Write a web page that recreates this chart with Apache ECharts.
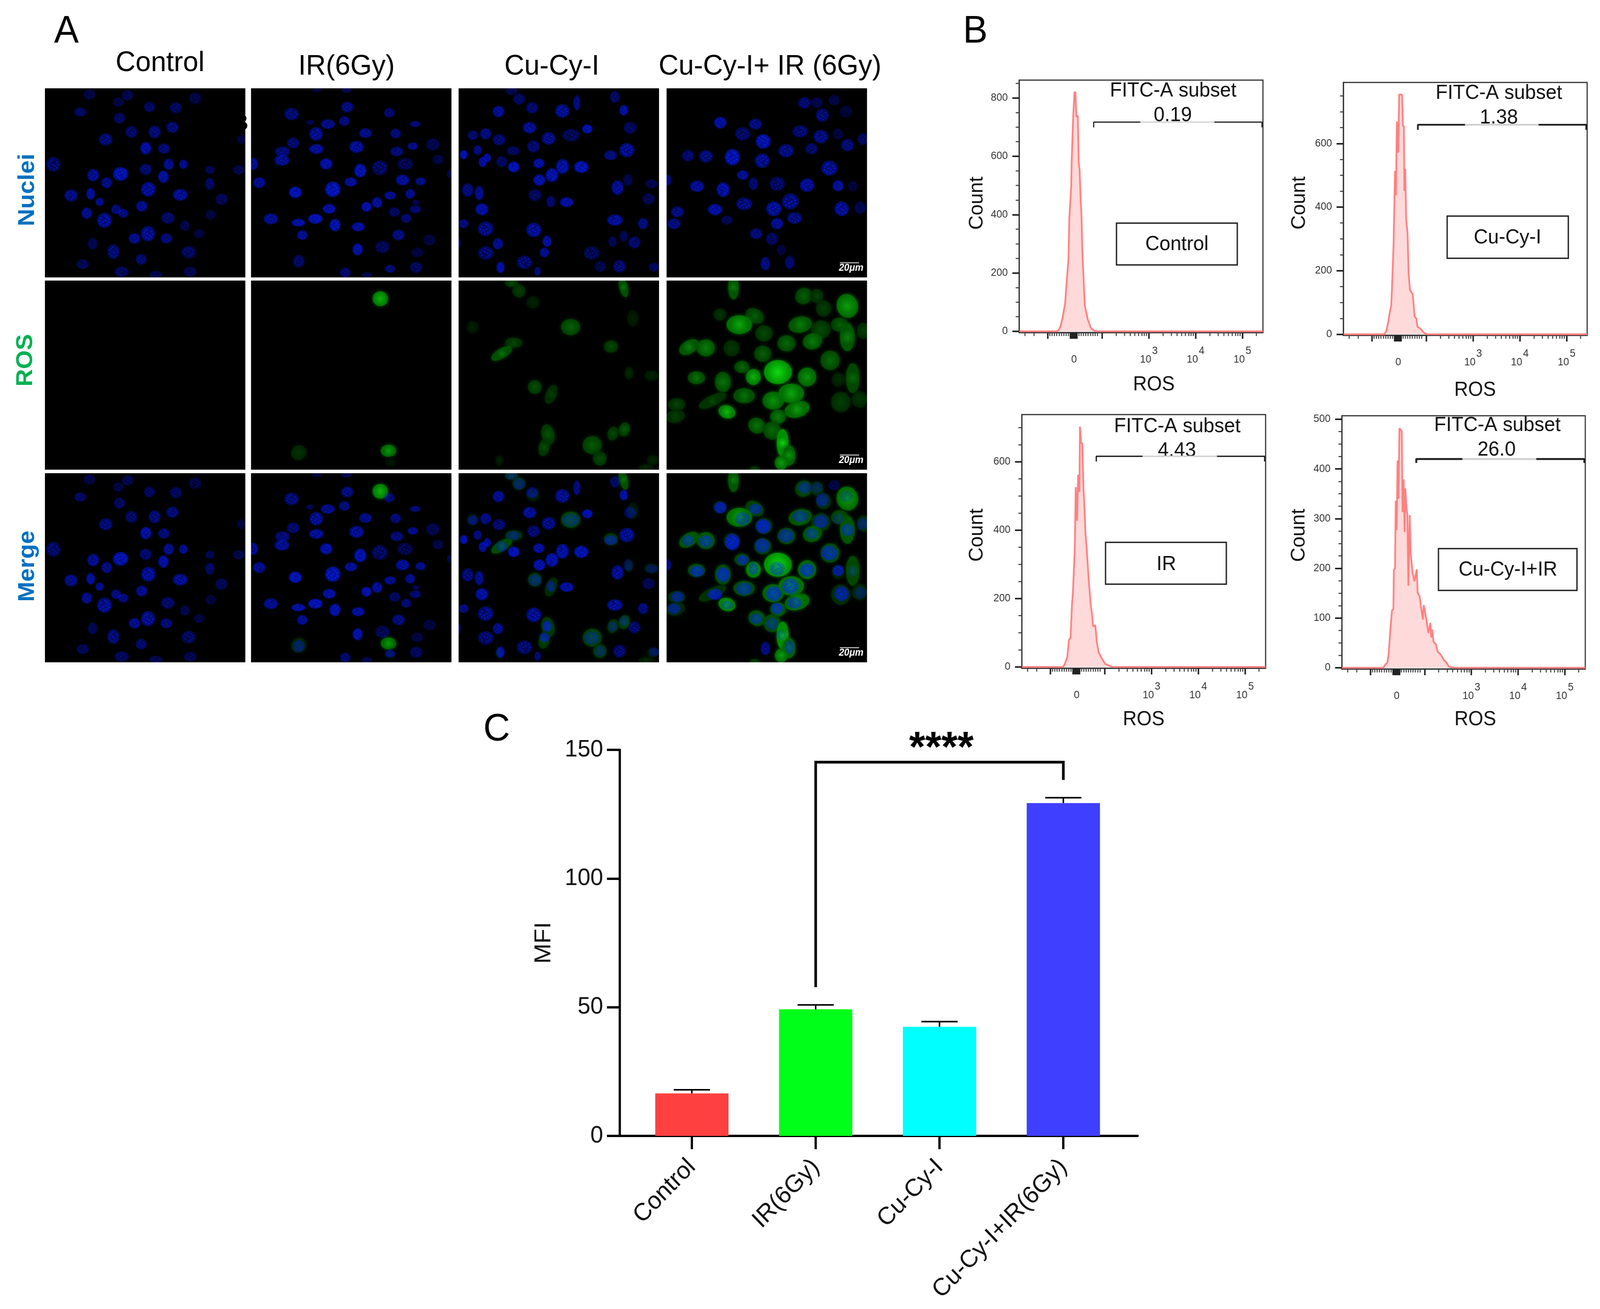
<!DOCTYPE html>
<html>
<head>
<meta charset="utf-8">
<title>ROS microscopy, flow cytometry and MFI</title>
<script src="https://cdn.jsdelivr.net/npm/echarts@6/dist/echarts.min.js"></script>
<style>
html, body { margin: 0; padding: 0; background: #fff; overflow: hidden; }
#main { width: 4239px; height: 3350px; transform-origin: 0 0; }
</style>
</head>
<body>
<div id="main"></div>
<script>
// --- panel C: bars
var barCategories = ['Control', 'IR(6Gy)', 'Cu-Cy-I', 'Cu-Cy-I+IR(6Gy)'];
var barMeans = [16.5, 49.2, 42.4, 129.3];
var barErrorTops = [17.9, 50.9, 44.4, 131.4];
var barColors = ['#ff4040', '#00ff19', '#00ffff', '#3f3fff'];
var bracket = [[1, 57.8], [1, 145.2], [3, 145.2], [3, 138.3]];

// --- panel B: histograms, x in decades of the biexponential axis, y in counts
var histControl = [[0.23,0],[1.03,0],[1.07,3],[1.115,20],[1.16,51],[1.21,97],[1.24,166],[1.28,243],[1.3,389],[1.34,497],[1.35,581],[1.38,727],[1.41,819],[1.43,819],[1.45,735],[1.48,739],[1.5,581],[1.52,550],[1.54,458],[1.56,397],[1.58,266],[1.6,197],[1.63,89],[1.69,43],[1.76,12],[1.83,2],[1.9,0],[5.44,0]];
var histCuCy = [[0.23,0],[1.1,0],[1.145,10],[1.19,42],[1.22,70],[1.25,91],[1.27,161],[1.3,285],[1.33,514],[1.35,437],[1.37,669],[1.4,571],[1.42,754],[1.48,754],[1.5,655],[1.52,655],[1.53,451],[1.55,521],[1.57,359],[1.6,317],[1.62,197],[1.65,140],[1.71,126],[1.75,56],[1.79,49],[1.81,24],[1.88,17],[1.94,6],[2.01,0],[5.44,0]];
var histIR = [[0.23,0],[1.11,0],[1.15,10],[1.2,30],[1.235,79],[1.27,86],[1.3,184],[1.32,217],[1.36,348],[1.38,526],[1.41,427],[1.43,562],[1.46,512],[1.47,703],[1.495,654],[1.52,654],[1.545,526],[1.57,453],[1.59,388],[1.62,335],[1.66,250],[1.7,184],[1.73,152],[1.75,119],[1.8,122],[1.83,73],[1.87,43],[1.94,24],[2.01,9],[2.1,4],[2.17,0],[5.44,0]];
var histCuCyIR = [[0.23,0],[1.115,0],[1.16,7],[1.2,10],[1.23,29],[1.27,83],[1.3,115],[1.33,119],[1.34,196],[1.365,201],[1.38,336],[1.4,277],[1.42,417],[1.44,340],[1.46,482],[1.49,478],[1.51,476],[1.525,313],[1.55,379],[1.57,273],[1.585,361],[1.61,322],[1.63,309],[1.65,165],[1.68,307],[1.7,232],[1.74,192],[1.78,174],[1.83,198],[1.85,151],[1.89,144],[1.91,131],[1.96,97],[1.98,126],[2.02,106],[2.08,70],[2.12,90],[2.14,61],[2.16,77],[2.19,52],[2.24,47],[2.28,32],[2.34,27],[2.41,16],[2.47,10],[2.52,2],[2.65,0],[5.44,0]];

var xMajorTicks = [0.84, 1.32, 1.35, 1.38, 1.4, 1.42, 1.44, 1.46, 2, 3, 4, 5];
var xMinorTicks = [0.35,0.54,0.88,0.93,0.98,1.03,1.08,1.13,1.18,1.23,1.28,1.5,1.55,1.6,1.65,1.7,1.75,1.8,1.85,1.9,2.3,2.48,2.6,2.7,2.78,2.85,2.9,2.95,3.3,3.48,3.6,3.7,3.78,3.85,3.9,3.95,4.3,4.48,4.6,4.7,4.78,4.85,4.9,4.95,5.3];
var xTickLabels = [1.4, 3, 4, 5];

var yMajorControl = [0, 200, 400, 600, 800];
var yMinorControl = [50,100,150,250,300,350,450,500,550,650,700,750,850];
var yMajorCuCy = [0, 200, 400, 600];
var yMinorCuCy = [50,100,150,250,300,350,450,500,550,650,700,750];
var yMajorIR = [0, 200, 400, 600];
var yMinorIR = [50,100,150,250,300,350,450,500,550,650,700];
var yMajorCuCyIR = [0, 100, 200, 300, 400, 500];
var yMinorCuCyIR = [25,50,75,125,150,175,225,250,275,325,350,375,425,450,475];

// --- panel A: cells in percent of the image, nuclei [x, y, rx, ry, level]
var nucleiControl = [[22.2,3.3,3,2.8,.25],[41.3,3.7,3,2.8,.3],[36.7,7.3,2.8,2.6,.25],[75,5.3,3.2,3.2,.25],[17.7,12.5,3,2.4,.45],[52.2,9.9,2.8,2.8,.4],[65.3,10.3,3,3,.4],[37.2,15.8,2.8,3,.4],[43.1,23.1,3,3.2,.45],[54.7,23.1,3,3.4,.55],[63.6,20.6,3.1,3,.55],[30.3,27,3.4,3.2,.55],[50.3,31.7,2.7,3.3,.85],[59.4,31.9,3,2.7,.55],[4.2,40.2,3.6,4,.45],[50.3,42.9,3,3,.5],[61.7,40.2,2.6,3,.7],[69.1,40.2,2.1,2.5,.75],[37.7,45.3,3.8,3.6,.95],[24.1,45.9,3,3.3,.7],[30.8,49.9,2.7,3,.65],[59.1,46.8,2.6,3.3,.85],[82.3,43.1,2.3,2.2,.35],[96.7,43.1,3,2.5,.3],[82.2,50.5,2.3,3.2,.45],[51.6,53.4,3.6,3.9,.75],[67.5,56.3,3.7,3.1,.75],[13,56.7,3.2,3.2,.65],[22.8,55.8,2.1,3.1,.85],[27.3,60,2.1,2.2,.7],[88.1,58.7,3.1,3.1,.35],[48.3,62.3,2.8,2.9,.7],[35.5,64,2.5,2.6,.6],[39.1,66.1,2.5,2.4,.6],[20.9,66,2.6,3,.7],[29.7,69.8,3.7,4,.7],[61.4,68.6,3.4,3.1,.45],[69.8,72.6,2.4,2.8,.3],[51.4,76.9,3.5,4,.7],[44.7,79.4,2.9,2.8,.7],[60.6,79.4,3,2.7,.55],[76.9,76.8,2.6,2.4,.25],[82.7,66.9,2.7,2.6,.2],[23.8,82.1,2.4,3.2,.35],[34.1,86.4,3,3.9,.55],[71.7,86.7,3.6,3.4,.4],[48,90.4,2.8,2.9,.5],[18.9,93,3.1,2.7,.35],[38.3,97,3.6,2.8,.4],[72.5,97,3.3,2.7,.3],[55.3,98.5,3.4,2,.3],[98,27,2.2,2.6,.2]];

var nucleiIR = [[48,9.9,3.1,2.9,.6],[69,12.9,2.7,2.6,.5],[20.2,13.6,3.6,3.3,.55],[29.5,17.9,1.9,1.3,.4],[38.3,18.9,3.6,2.6,.65],[46.6,17.3,2.7,2.6,.6],[81.9,18.9,2.6,1.6,.6],[32.5,24.1,3.4,3.6,.7],[57.1,23.7,3.2,2.6,.65],[72.2,23.9,2.7,2.6,.55],[21,28.9,3.1,2.9,.5],[80.7,30.5,2.6,2,.7],[90.7,29.7,3.4,3.3,.3],[15.7,33.4,3.8,2.6,.55],[15.4,38,3.8,2.9,.7],[32.6,32.1,3.6,2.6,.8],[52.6,31,3.6,3.2,.75],[72.7,33.4,3.2,2.6,.55],[37.5,40,3.1,2.9,.9],[1,40,2.6,3.3,.7],[54.5,43.5,3,3.6,.95],[64.3,42,4,4,.4],[76.9,40,4,3.3,.3],[93.3,37.7,2.9,2.6,.25],[4.1,49.9,3.1,2.9,.7],[49.8,49.5,3.1,2.4,.8],[75.6,48.5,3.4,2.9,.75],[84.6,49.2,2.6,2.1,.7],[22.1,55,3.2,3,1],[40.8,53.4,3.8,4,1],[69.4,56.7,2.9,2.2,.7],[79.4,55.8,2.4,2.6,.7],[62.9,60.4,2.6,2.9,.8],[57.6,62.7,2.5,2.6,.95],[82.2,60.4,1.7,1.3,.4],[39,63.7,3.3,2.6,.85],[71.6,65.4,2.9,2.6,.4],[82,64,2.9,2.1,.5],[9.9,69,3.6,2.9,.7],[32.1,69,3.6,2.6,1],[23.6,71,3.4,2,.9],[77.4,68.7,2.6,2.4,.55],[41.9,72.3,2.7,3.3,.95],[53.5,73.2,3.2,2.4,.85],[25.6,77.6,2.6,2.6,.75],[73.6,77.6,3.1,2.9,.6],[89,80.2,3.2,2.9,.2],[65.6,83.9,3.6,3.3,.35],[53.2,85.2,2.5,3.2,.9],[83,86.8,3.1,2.6,.2],[23.8,91.4,2.9,3.3,.45],[82.4,94.7,3.1,3,.4],[69.4,95.4,2.6,2.1,.55],[47,97.4,2.6,2.6,.5],[57.8,98.7,2.6,1.6,.3],[32.8,1,2.7,1,.25],[47.6,1,2.7,1.3,.35],[98.9,45.3,1.2,2,.35]];

var nucleiCuCy = [[26.4,1.3,3,2.4,.3],[30.2,5.7,3,3,.4],[36.7,10.3,3,3,.5],[19.9,12.3,2.9,3,.75],[51.7,12,3.6,3.6,.7],[59,7.7,1.8,4,.6],[77.9,4.6,2.4,3.2,.45],[82.4,11.6,2.1,2.8,.9],[85.6,20.8,3.2,3.2,.4],[64.2,21.5,2.6,2.4,.95],[35.4,20.8,3.4,3,.75],[7.1,24.8,2.6,2.6,.5],[13.5,24.1,2.8,3,.6],[20.2,27.2,3.2,3,.5],[44.9,26.5,3.4,3.4,.65],[56.1,24.8,4.4,3.4,.35],[27.2,33,3.3,2.4,.4],[37.4,30.7,3.2,3.2,.5],[9.5,32.7,2.1,2.6,.6],[2.6,35.1,1.8,2.4,1],[14.3,36.7,1.9,2.4,.8],[12,39,2,2.8,.8],[21.5,38.7,2.8,3,.4],[27.5,41.6,2.9,2.8,1],[40,39.7,2.8,2.6,.85],[51.8,41.3,3.2,3.9,.85],[61.2,41.6,3.6,3.2,.95],[46.6,45.9,3.2,3.6,.9],[40.3,48.5,3,3,.9],[75.8,35.4,3.2,2.6,.6],[83.9,32.7,3.8,3.8,.7],[79.3,52.5,3,3.9,.75],[84.5,48.5,2.4,3.2,.3],[96.2,50.5,3.2,2.4,.3],[4.5,53.8,2.9,3.6,.55],[10.3,55.4,2.2,3.8,.7],[38.1,56.5,3.2,3.2,.4],[46,59.8,2.2,3,.5],[53.9,60.2,3.4,2.6,.85],[11.6,64,3.2,3.2,.85],[94.8,58.4,3.1,3,.35],[78,69.7,3.9,3,.8],[2.6,71.6,2.4,2.4,.6],[13.5,74.3,3.9,3.9,.6],[37.5,74.9,3.7,3.8,.75],[92,71.6,2.5,3,.6],[44.1,80.9,2.2,3,.85],[19.6,82.2,2.6,3,.7],[76.8,81.1,2.2,2.8,.35],[82.4,78.2,2.2,2.8,.35],[87.7,81.5,3,3.2,.5],[13.6,87.1,3.9,3.6,.5],[42.8,86.8,2.4,2.6,.7],[66.4,87.1,4,3.6,.35],[32.8,92.1,3.9,3.6,.5],[80.3,94.1,3.2,3.4,.5],[70.7,94.1,2.8,3,.3],[97.5,94.5,2.6,2.4,.4],[20.9,94.7,2,3,.9],[39.4,96.7,1.6,2.4,.6],[0,82.2,1,2.8,.6]];

var nucleiCuCyIR = [[26.8,18.2,3.1,3.1,.85],[38,24.1,3.8,3.6,.45],[44.3,18.9,3.3,2.9,.6],[48.2,28.1,3.7,3.8,.95],[59.6,33,3.9,3.5,.6],[32.8,36.4,3.7,4.3,1],[47.7,38.3,3.7,3.8,.7],[66.7,22.8,4,3.2,.5],[68.8,7.7,3.2,3.1,.5],[75,7.7,2.8,2.9,.3],[77.7,14.2,3.2,3.6,.55],[83.6,6.3,2.9,2.9,.25],[89.6,12.3,3.2,3.2,.15],[77,25.5,3.7,3.6,.6],[85.6,24.1,2.8,2.9,.2],[72.4,32,3.2,3,.45],[90.2,30,3.2,3.3,.55],[97.9,26.8,2.6,3.2,.4],[19.6,36,3.4,3.3,.6],[10.7,35.6,3,3,.5],[81.2,42.2,4,4,.7],[38,45.9,2.8,2.6,.75],[43.3,50.5,2.3,3.4,.5],[55.2,50.5,3.8,3.8,.45],[70.1,51.2,3.6,3.6,.75],[85.6,51.5,2.8,3,.8],[15.2,51.8,3.5,3,.75],[28.2,53.6,3.3,3.9,.85],[24.2,64.1,3.6,3,.85],[38.7,61.1,4,3.3,.6],[53.5,63.7,3.8,3.9,.8],[61.8,59.8,4.2,4.2,.65],[63.8,68.6,3.8,3.1,.6],[55.1,71.6,3,3,.75],[87.3,63.7,3.6,3.9,.75],[96.6,63.1,3,3.3,.3],[92.9,51.8,2.4,2.8,.2],[5.4,65.3,3.3,2.9,.6],[3.7,71.6,3.3,2.9,.6],[30.1,69.7,2.9,2.4,.35],[44.7,76.9,3.1,2.9,.55],[52.6,79.6,3.1,3.3,.4],[57.2,85.5,2.4,2.8,.2],[61.4,92.1,2.4,3.6,.5],[49.3,92.7,2.4,3.6,.6],[0.4,48.5,2,3,.6]];

// ROS signal [x, y, rx, ry, angle, level]
var rosIR = [[64.5,9.6,3.6,3.7,8,.8],[23.8,91,3.6,3.6,-30,.2],[68.6,90,3.6,3,0,.68],[69.5,96,2.4,2,0,.06]];
var rosCuCy = [[30.1,5.5,3,3.2,0,.25],[82.3,3.6,2,5,-15,.5],[26.4,1.3,3,2,0,.3],[37.1,11.5,3,3,0,.12],[55.9,24.6,4.5,4,0,.42],[27.5,32.9,4,2.5,0,.3],[21.5,38.5,5.5,2.5,-30,.5],[76,34.9,3.3,3,0,.3],[7,24.6,2.6,3,0,.1],[86.9,20,2.6,4,0,.1],[38,56.3,3.2,3.4,0,.33],[46.2,60.2,2.5,5,25,.25],[85,49,2,3,0,.15],[96.2,50.3,3.2,2.4,0,.12],[44.6,81.3,3,5,-15,.35],[42.7,88.1,2.5,4.5,15,.33],[66.7,87,4.5,4.5,0,.38],[77,80.9,2.5,3.5,20,.3],[82.7,78.7,2.5,3.5,20,.38],[70.5,94.1,3.2,3.5,0,.3],[20.2,95.1,1.6,2.4,0,.12],[96.8,95,2.6,2.4,0,.12],[93.5,99,3.4,1.6,0,.15]];
var rosCuCyIR = [[33.4,3.6,2.5,6,0,.55],[68.4,8.2,4,4,-30,.4],[75,8.2,3,3.5,0,.25],[78.3,14.8,3.5,4,0,.25],[90.2,13.4,5,6,-20,.7],[44,18.7,4.5,3.5,30,.4],[26.6,18,3,3,0,.2],[36.3,23.3,6,4.7,0,.75],[48.6,27.9,4,4,0,.3],[66.7,23.3,5.5,4,-10,.55],[77,25.9,4.5,4.5,0,.3],[86.3,23.3,4,3.5,0,.4],[90.2,29.9,3.5,7,0,.55],[98.2,26.6,3,4,0,.25],[59.8,33.2,4.2,4,0,.45],[72.8,32.1,4.5,4,-15,.55],[11.2,35.2,5,3.3,-30,.55],[19.6,35.6,4.2,4.2,0,.55],[32.4,35.8,3.7,4,0,.22],[48,38.7,4,4,0,.4],[81.6,42.2,4.5,4.8,0,.45],[37.6,45.7,3.5,3,0,.45],[14.9,51.4,4,3.2,0,.5],[28.1,53.6,3.7,5,0,.5],[43.3,51,3.5,4,0,.8],[55.5,48.4,6.5,6,0,1],[70.1,51,4.3,4.7,0,.65],[92.9,51.6,3.2,7.5,0,.45],[85.6,52.3,3,3.5,0,.15],[38.7,60.9,5,3.7,0,.5],[22.9,63.5,7,2.7,-25,.3],[5,65.5,4,3,0,.28],[4.4,71.8,4.5,3.2,-10,.25],[30.1,69.4,4,3.3,15,.85],[53.2,63.5,5,4.5,0,.65],[62.2,59.6,6,4.8,0,.75],[65.1,68.1,6,4,-15,.7],[55.6,72,3.7,3.5,0,.55],[86.9,64.2,4.5,5,0,.25],[96.2,62.8,3.5,4,0,.2],[45,76.7,4,3.8,20,.5],[52.6,79.3,4,4.5,0,.45],[57.9,85.9,2.8,7,0,.95],[61.1,92.5,3,5,0,.65],[57.2,96.4,3,3.5,0,.7],[44,100,2.5,1.6,0,.3]];

var microHeaders = ['Control', 'IR(6Gy)', 'Cu-Cy-I', 'Cu-Cy-I+ IR (6Gy)'];
var microNuclei = [nucleiControl, nucleiIR, nucleiCuCy, nucleiCuCyIR];
var microRos = [[], rosIR, rosCuCy, rosCuCyIR];

var FONT = '"Liberation Sans", Arial, sans-serif';
var speckle = [[-.5,-.3],[.1,-.6],[.55,-.15],[-.2,.2],[.3,.5],[-.5,.45],[.12,.02],[.6,.25],[-.1,.65],[-.68,.05],[.35,-.42]];

function renderNucleus(params, api) {
  var c = api.coord([api.value(0), api.value(1)]);
  var s = api.size([api.value(2), api.value(3)]);
  var level = api.value(4);
  var base = 'rgba(0,30,255,' + (.09 + .38 * level).toFixed(2) + ')';
  var spot = 'rgba(10,30,255,' + (.12 + .55 * level).toFixed(2) + ')';
  var flip = params.dataIndex % 2 ? 1 : -1;
  var flop = params.dataIndex % 3 ? 1 : -1;
  var children = [{
    type: 'ellipse',
    shape: { cx: c[0], cy: c[1], rx: s[0], ry: s[1] },
    style: { fill: base, shadowBlur: 5, shadowColor: base }
  }];
  speckle.forEach(function(o) {
    children.push({
      type: 'ellipse',
      shape: { cx: c[0] + flip * o[0] * s[0], cy: c[1] + flop * o[1] * s[1], rx: s[0] * .14, ry: s[1] * .12 },
      style: { fill: spot, shadowBlur: 4, shadowColor: spot }
    });
  });
  return { type: 'group', children: children };
}

function renderRos(params, api) {
  var c = api.coord([api.value(0), api.value(1)]);
  var s = api.size([api.value(2), api.value(3)]);
  var level = api.value(5);
  var g = Math.round(12 + 205 * level);
  var inner = 'rgb(' + Math.round(18 * level) + ',' + g + ',' + Math.round(18 * level) + ')';
  var outer = 'rgb(0,' + Math.round(g * .68) + ',0)';
  return {
    type: 'ellipse',
    x: c[0],
    y: c[1],
    rotation: api.value(4) * Math.PI / 180 * -1,
    shape: { cx: 0, cy: 0, rx: s[0] * 1.05, ry: s[1] * 1.05 },
    style: {
      fill: { type: 'radial', x: .5, y: .5, r: .5, colorStops: [{ offset: 0, color: inner }, { offset: 1, color: outer }] },
      shadowBlur: 10,
      shadowColor: outer
    }
  };
}

var grids = [], xAxes = [], yAxes = [], series = [], texts = [];

function addText(text, x, y, size, extra) {
  texts.push(Object.assign({
    type: 'text',
    x: x,
    y: y,
    silent: true,
    style: Object.assign({
      text: text,
      fontSize: size,
      fontFamily: FONT,
      fill: '#000',
      align: 'center',
      verticalAlign: 'middle',
      textAlign: 'center',
      textVerticalAlign: 'middle'
    }, extra && extra.style)
  }, extra && extra.el));
}

// panel A
var colLefts = [119, 665, 1215, 1766];
var rowTops = [226, 718, 1211];
var PANEL_W = 531, PANEL_H = 484;

rowTops.forEach(function(top, row) {
  colLefts.forEach(function(left, col) {
    var idx = grids.length;
    grids.push({ left: left, top: top, width: PANEL_W, height: PANEL_H, show: true, backgroundColor: '#000', borderWidth: 0 });
    xAxes.push({ gridIndex: idx, type: 'value', show: false, min: 0, max: 100 });
    yAxes.push({ gridIndex: idx, type: 'value', show: false, min: 0, max: 100, inverse: true });
    if (row > 0 && microRos[col].length) {
      series.push({ type: 'custom', xAxisIndex: idx, yAxisIndex: idx, coordinateSystem: 'cartesian2d', clip: true, silent: true, renderItem: renderRos, encode: { x: 0, y: 1 }, data: microRos[col] });
    }
    if (row !== 1) {
      series.push({ type: 'custom', xAxisIndex: idx, yAxisIndex: idx, coordinateSystem: 'cartesian2d', clip: true, silent: true, renderItem: renderNucleus, encode: { x: 0, y: 1 }, data: microNuclei[col] });
    }
  });
  // scale bar on the last column
  addText('20μm', 2255, top + 460, 25, { style: { fill: '#fff', fontWeight: 'bold', fontStyle: 'italic' } });
  texts.push({ type: 'rect', silent: true, shape: { x: 2225, y: top + 445, width: 51, height: 3 }, style: { fill: '#aaa' } });
});

// panel B
var X_MIN = 0.226, X_MAX = 5.44;
var histPanels = [
  { hist: histControl, major: yMajorControl, minor: yMinorControl, frame: [2700, 205, 646, 646], yMin: -4, yMax: 861,
    gate: [717, 1.82, 2.82, 4.4, 5.42], tick: 18, gateWidth: 3, title: [3108, 233], value: '0.19', valueAt: [3107, 296],
    box: [2958, 571, 320, 107], name: 'Control', nameAt: [3118, 626], rosPad: 68, rosGap: 108, countGap: 86, countPad: 16 },
  { hist: histCuCy, major: yMajorCuCy, minor: yMinorCuCy, frame: [3559, 211, 646, 647], yMin: -3, yMax: 792,
    gate: [659, 1.82, 2.83, 4.4, 5.42], tick: 16, gateWidth: 4.5, title: [3971, 239], value: '1.38', valueAt: [3971, 302],
    box: [3834, 553, 321, 108], name: 'Cu-Cy-I', nameAt: [3994, 609], rosPad: 52, rosGap: 115, countGap: 91, countPad: 30 },
  { hist: histIR, major: yMajorIR, minor: yMinorIR, frame: [2707, 1061, 646, 649], yMin: -3.4, yMax: 738,
    gate: [616, 1.82, 2.81, 4.4, 5.42], tick: 15, gateWidth: 3.5, title: [3119, 1092], value: '4.43', valueAt: [3118, 1154],
    box: [2929, 1388, 320, 107], name: 'IR', nameAt: [3090, 1445], rosPad: 0, rosGap: 106, countGap: 93, countPad: 32 },
  { hist: histCuCyIR, major: yMajorCuCyIR, minor: yMinorCuCyIR, frame: [3555, 1064, 645, 648], yMin: -2.4, yMax: 507,
    gate: [420, 1.82, 2.81, 4.39, 5.42], tick: 8, gateWidth: 5, title: [3967, 1089], value: '26.0', valueAt: [3965, 1152],
    box: [3811, 1404, 367, 107], name: 'Cu-Cy-I+IR', nameAt: [3995, 1459], rosPad: 62, rosGap: 104, countGap: 88, countPad: 36 }
];

var tickLabelStyle = { fontSize: 27, fontFamily: FONT, color: '#333' };

function addHistogram(p) {
  var idx = grids.length;
  var xIdx = xAxes.length;
  var yIdx = yAxes.length;
  grids.push({ left: p.frame[0], top: p.frame[1], width: p.frame[2], height: p.frame[3], show: true, backgroundColor: 'transparent', borderColor: '#333', borderWidth: 3 });
  xAxes.push({
    gridIndex: idx, type: 'value', min: X_MIN, max: X_MAX, position: 'bottom',
    name: 'ROS', nameLocation: 'middle', nameGap: p.rosGap,
    nameTextStyle: { fontSize: 51, fontFamily: FONT, color: '#111', padding: [0, 0, 0, p.rosPad] },
    splitLine: { show: false },
    axisLine: { show: true, onZero: false, lineStyle: { color: '#333', width: 3 } },
    axisTick: { show: true, customValues: xMajorTicks, length: 16, lineStyle: { color: '#222', width: 4 } },
    axisLabel: {
      show: true, customValues: xTickLabels, margin: 34, hideOverlap: false,
      formatter: function(v) { return v === 1.4 ? '{z|0}' : '{t|10}{e|' + v + '}'; },
      rich: {
        z: { fontSize: 27, fontFamily: FONT, color: '#333', padding: [22, 0, 0, 0] },
        t: { fontSize: 27, fontFamily: FONT, color: '#333', verticalAlign: 'bottom' },
        e: { fontSize: 27, fontFamily: FONT, color: '#333', verticalAlign: 'bottom', padding: [0, 0, 22, 2] }
      }
    }
  });
  xAxes.push({
    gridIndex: idx, type: 'value', min: X_MIN, max: X_MAX, position: 'bottom',
    splitLine: { show: false }, axisLine: { show: false, onZero: false }, axisLabel: { show: false },
    axisTick: { show: true, customValues: xMinorTicks, length: 9, lineStyle: { color: '#333', width: 2.5 } }
  });
  yAxes.push({
    gridIndex: idx, type: 'value', min: p.yMin, max: p.yMax, position: 'left',
    name: 'Count', nameLocation: 'middle', nameGap: p.countGap,
    nameTextStyle: { fontSize: 51, fontFamily: FONT, color: '#111', padding: [0, 0, 0, p.countPad] },
    splitLine: { show: false },
    axisLine: { show: true, onZero: false, lineStyle: { color: '#333', width: 3 } },
    axisTick: { show: true, customValues: p.major, length: 18, lineStyle: { color: '#222', width: 4 } },
    axisLabel: Object.assign({ show: true, customValues: p.major, margin: 30, hideOverlap: false, padding: [18, 0, 0, 0] }, tickLabelStyle)
  });
  yAxes.push({
    gridIndex: idx, type: 'value', min: p.yMin, max: p.yMax, position: 'left',
    splitLine: { show: false }, axisLine: { show: false, onZero: false }, axisLabel: { show: false },
    axisTick: { show: true, customValues: p.minor, length: 9, lineStyle: { color: '#333', width: 2.5 } }
  });
  series.push({
    type: 'line', xAxisIndex: xIdx, yAxisIndex: yIdx, showSymbol: false, silent: true,
    lineStyle: { color: '#ff8080', width: 4.5 },
    areaStyle: { color: 'rgba(255,130,130,0.42)' },
    data: p.hist
  });
  // gate bracket, grey where the value label sits on it
  var g = p.gate, y = g[0], x0 = g[1], g1 = g[2], g2 = g[3], x1 = g[4];
  [[[x0, y - p.tick], [x0, y], [g1, y]], [[g2, y], [x1, y], [x1, y - p.tick]]].forEach(function(seg) {
    series.push({ type: 'line', xAxisIndex: xIdx, yAxisIndex: yIdx, showSymbol: false, silent: true, z: 3, lineStyle: { color: '#222', width: p.gateWidth }, data: seg });
  });
  series.push({ type: 'line', xAxisIndex: xIdx, yAxisIndex: yIdx, showSymbol: false, silent: true, z: 3, lineStyle: { color: '#d0d0d0', width: p.gateWidth }, data: [[g1, y], [g2, y]] });

  addText('FITC-A subset', p.title[0], p.title[1], 52, { style: { fill: '#111' } });
  addText(p.value, p.valueAt[0], p.valueAt[1], 52, { style: { fill: '#111' } });
  texts.push({ type: 'rect', silent: true, shape: { x: p.box[0], y: p.box[1], width: p.box[2], height: p.box[3] }, style: { fill: 'transparent', stroke: '#222', lineWidth: 3.5 } });
  addText(p.name, p.nameAt[0], p.nameAt[1], 52, { style: { fill: '#111' } });
}
histPanels.forEach(addHistogram);

// panel C
var cGrid = grids.length, cX = xAxes.length, cY = yAxes.length;
grids.push({ left: 1642, top: 1919, width: 1372, height: 988 });
xAxes.push({
  gridIndex: cGrid, type: 'value', min: -0.582, max: 3.6,
  splitLine: { show: false },
  axisLine: { show: true, onZero: false, lineStyle: { color: '#000', width: 6 } },
  axisTick: { show: true, customValues: [0, 1, 2, 3], length: 34, lineStyle: { color: '#000', width: 6 } },
  axisLabel: {
    show: true, customValues: [0, 1, 2, 3], rotate: 45, margin: 70, hideOverlap: false,
    fontSize: 63, fontFamily: FONT, color: '#111',
    formatter: function(v) { return barCategories[v]; }
  }
});
yAxes.push({
  gridIndex: cGrid, type: 'value', min: 0, max: 150, interval: 50, position: 'left',
  name: 'MFI', nameLocation: 'middle', nameGap: 170,
  nameTextStyle: { fontSize: 62, fontFamily: FONT, color: '#111' },
  splitLine: { show: false },
  axisLine: { show: true, onZero: false, lineStyle: { color: '#000', width: 6 } },
  axisTick: { show: true, length: 34, lineStyle: { color: '#000', width: 6 } },
  axisLabel: { show: true, margin: 44, fontSize: 61, fontFamily: FONT, color: '#111' }
});
series.push({
  type: 'bar', xAxisIndex: cX, yAxisIndex: cY, barWidth: 194, silent: true,
  data: barMeans.map(function(v, i) {
    return { value: [i, v], itemStyle: { color: barColors[i] } };
  })
});
series.push({
  type: 'custom', xAxisIndex: cX, yAxisIndex: cY, coordinateSystem: 'cartesian2d', silent: true, z: 1,
  encode: { x: 0, y: [1, 2] },
  data: barMeans.map(function(v, i) { return [i, v, barErrorTops[i]]; }),
  renderItem: function(params, api) {
    var from = api.coord([api.value(0), api.value(1)]);
    var to = api.coord([api.value(0), api.value(2)]);
    var st = { stroke: '#000', lineWidth: 4 };
    return { type: 'group', children: [
      { type: 'line', shape: { x1: from[0], y1: from[1], x2: to[0], y2: to[1] }, style: st },
      { type: 'line', shape: { x1: to[0] - 48, y1: to[1], x2: to[0] + 48, y2: to[1] }, style: st }
    ] };
  }
});
series.push({
  type: 'line', xAxisIndex: cX, yAxisIndex: cY, showSymbol: false, silent: true,
  lineStyle: { color: '#000', width: 7, join: 'miter' },
  data: bracket
});

// free text
addText('A', 176, 82, 98);
addText('B', 2584, 82, 98);
addText('C', 1316, 1868, 98);
addText('****', 2494, 1918, 110, { style: { fontWeight: 'bold' } });
var headerAt = [[424, 162], [918, 171], [1462, 171], [2040, 171]];
microHeaders.forEach(function(h, i) {
  addText(h, headerAt[i][0], headerAt[i][1], 73);
});
var sideRot = { rotation: Math.PI / 2 };
addText('Nuclei', 73, 486, 62, { el: sideRot, style: { fill: '#0070c0', fontWeight: 'bold' } });
addText('ROS', 68, 922, 62, { el: sideRot, style: { fill: '#00b050', fontWeight: 'bold' } });
addText('Merge', 73, 1449, 62, { el: sideRot, style: { fill: '#0070c0', fontWeight: 'bold' } });
// scrap of a stray glyph left in the gap between the first two images
addText('B', 637, 317, 58, { style: { fontWeight: 'bold' } });

// the browser window can be narrower than the 4239 px layout, fit it in
var main = document.getElementById('main');
if (window.innerWidth < 4239) {
  main.style.transform = 'scaleX(' + window.innerWidth / 4239 + ')';
}

var myChart = echarts.init(main);
myChart.setOption({
  animation: false,
  backgroundColor: '#fff',
  grid: grids,
  xAxis: xAxes,
  yAxis: yAxes,
  series: series,
  graphic: { elements: texts }
});
</script>
</body>
</html>
